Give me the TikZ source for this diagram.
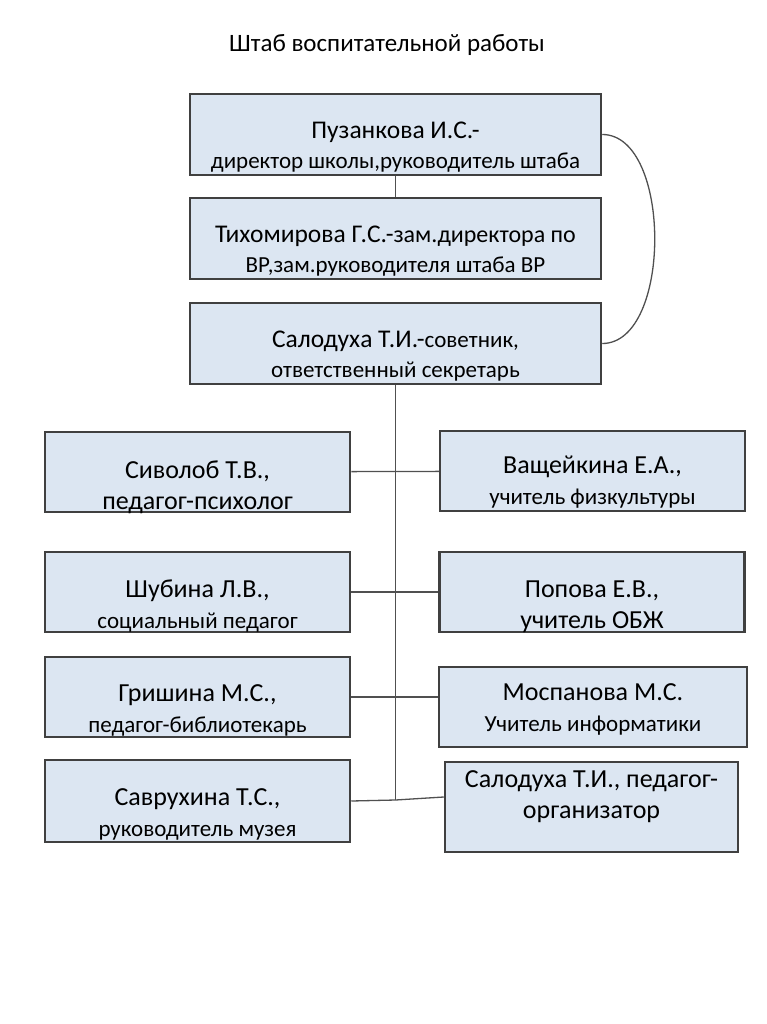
\documentclass[tikz,border=0pt]{standalone}
\usepackage{fontspec}
\setmainfont{Carlito}
\usetikzlibrary{positioning}
\definecolor{boxfill}{HTML}{DCE6F2}
\definecolor{boxline}{HTML}{404040}
\definecolor{linkline}{HTML}{505050}
\newcommand{\rolefont}{\fontsize{23}{30}\selectfont}
\begin{document}
\begin{tikzpicture}[x=1pt,y=-1pt,
  box/.style={draw=boxline,line width=2.5pt,fill=boxfill,inner sep=0pt},
  topbox/.style={box,minimum width=411pt,minimum height=81pt},
  sidebox/.style={box,minimum width=305pt,minimum height=80pt},
  toptext/.style={align=center,inner sep=0pt,font=\fontsize{25.5}{30}\selectfont},
  sidetext/.style={align=center,inner sep=0pt,font=\fontsize{26}{31}\selectfont},
  link/.style={draw=linkline,line width=1.3pt}]
\fill[white] (0,0) rectangle (767,1024);
\useasboundingbox (0,0) rectangle (767,1024);

\node[font=\fontsize{25}{30}\selectfont] (title) at (387,45) {Штаб воспитательной работы};

% top of the staff
\node[topbox] (b1) at (395.5,134.5) {};
\node[topbox] (b2) at (395.5,238.5) {};
\node[topbox] (b3) at (395.5,343.5) {};
\node[toptext] (t1) at ([yshift=-13pt]b1.center) {Пузанкова И.С.-\\{\rolefont директор школы,руководитель штаба}};
\node[toptext] (t2) at ([yshift=-13pt]b2.center) {Тихомирова Г.С.-{\fontsize{24}{30}\selectfont зам.директора по}\\{\rolefont ВР,зам.руководителя штаба ВР}};
\node[toptext] (t3) at ([yshift=-13pt]b3.center) {Салодуха Т.И.-{\rolefont советник,}\\{\rolefont ответственный секретарь}};

% left column
\node[sidebox] (l1) at (197.5,472) {};
\node[sidebox] (l2) at (197.5,592) {};
\node[sidebox] (l3) at (197.5,697) {};
\node[sidebox,minimum height=82pt] (l4) at (197.5,801) {};
\node[sidetext] (lt1) at ([yshift=-15pt]l1.center) {Сиволоб Т.В.,\\педагог-психолог};
\node[sidetext] (lt2) at ([yshift=-14pt]l2.center) {Шубина Л.В.,\\{\rolefont социальный педагог}};
\node[sidetext] (lt3) at ([yshift=-13pt]l3.center) {Гришина М.С.,\\{\rolefont педагог-библиотекарь}};
\node[sidetext] (lt4) at ([yshift=-13pt]l4.center) {Саврухина Т.С.,\\{\rolefont руководитель музея}};

% right column
\node[sidebox] (r1) at (592.5,471) {};
\node[sidebox] (r2) at (592,592) {};
\node[sidebox,minimum width=308pt] (r3) at (593,707) {};
\node[sidebox,minimum width=293pt,minimum height=90pt] (r4) at (591.5,807) {};
\node[sidetext] (rt1) at ([yshift=-11pt]r1.center) {Ващейкина Е.А.,\\{\rolefont учитель физкультуры}};
\node[sidetext] (rt2) at ([yshift=-15pt]r2.center) {Попова Е.В.,\\учитель ОБЖ};
\node[sidetext] (rt3) at ([yshift=-2pt]r3.center) {Моспанова М.С.\\{\rolefont Учитель информатики}};
\node[sidetext] (rt4) at ([yshift=10pt]r4.center) {Салодуха Т.И., педагог-\\организатор};

% connectors
\coordinate (spine) at (395.5,800);
\draw[link] (b1) -- (b2);
\draw[link] (b3) -- (spine);
\draw[link] (b1.east) .. controls +(70,0) and +(70,0) .. (b3.east);
\draw[link] (l1) -- (r1);
\draw[link] (l2) -- (r2);
\draw[link] (l3.east) -- (l3.east -| r3.west);
\draw[link] (l4.east) -- (spine) -- ([yshift=10pt]r4.west);
\end{tikzpicture}
\end{document}
